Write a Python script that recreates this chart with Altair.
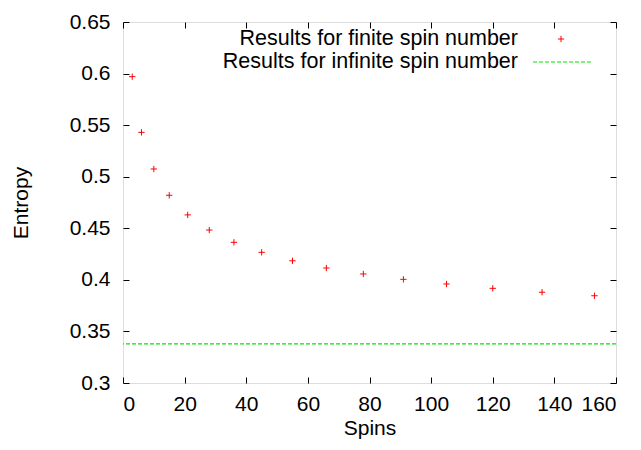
import altair as alt
import pandas as pd

# Data
spins = [3, 6, 10, 15, 21, 28, 36, 45, 55, 66, 78, 91, 105, 120, 136, 153]
entropy = [0.597, 0.543, 0.5075, 0.482, 0.463, 0.4483, 0.4364, 0.4267, 0.4185,
           0.4115, 0.4057, 0.4005, 0.396, 0.3918, 0.388, 0.3846]
infinite_value = [0.338]
x_ticks = [0, 20, 40, 60, 80, 100, 120, 140, 160]
y_ticks = [0.3, 0.35, 0.4, 0.45, 0.5, 0.55, 0.6, 0.65]
legend_labels = ["Results for finite spin number", "Results for infinite spin number"]

FONT = "Liberation Sans"
FS = 21
LFS = 21.5
PLUS = "M-1,0H1M0,-1V1"
RED = "#ff0000"
GREEN = "#00e600"

df = pd.DataFrame({"Spins": spins, "Entropy": entropy})
df_inf = pd.DataFrame({"Entropy": infinite_value})

xscale = alt.Scale(domain=[0, 160], nice=False, zero=False)
yscale = alt.Scale(domain=[0.3, 0.65], nice=False, zero=False)

common_axis = dict(domain=False, grid=False, tickSize=6, offset=-6, tickColor="black",
                   tickWidth=1, labelFont=FONT, labelFontSize=FS, labelColor="black",
                   titleFont=FONT, titleFontSize=FS, titleColor="black", titleFontWeight="normal")

points = alt.Chart(df).mark_point(shape=PLUS, filled=False, size=40, strokeWidth=1,
                                  color=RED, opacity=1).encode(
    x=alt.X("Spins:Q", scale=xscale,
            axis=alt.Axis(orient="bottom", values=x_ticks, labelPadding=10, titlePadding=3,
                          title="Spins", **common_axis)),
    y=alt.Y("Entropy:Q", scale=yscale,
            axis=alt.Axis(orient="left", values=y_ticks, format=".2~f", labelPadding=13,
                          titlePadding=38, title="Entropy", **common_axis)),
)

mirror = alt.Chart(df).mark_point(opacity=0).encode(
    x=alt.X("Spins:Q", scale=xscale,
            axis=alt.Axis(orient="top", values=x_ticks, labels=False, title=None, domain=False,
                          grid=False, tickSize=6, offset=-6, tickColor="black")),
    y=alt.Y("Entropy:Q", scale=yscale,
            axis=alt.Axis(orient="right", values=y_ticks, labels=False, title=None, domain=False,
                          grid=False, tickSize=6, offset=-6, tickColor="black")),
)

inf_line = alt.Chart(df_inf).mark_rule(color=GREEN, strokeDash=[4, 2], strokeWidth=1.2).encode(
    y=alt.Y("Entropy:Q", scale=yscale, axis=None)
)

leg1_text = alt.Chart(pd.DataFrame({"t": [legend_labels[0]]})).mark_text(
    align="right", baseline="middle", font=FONT, fontSize=LFS, color="black").encode(
    text="t:N", x=alt.value(395), y=alt.value(17))
leg1_sym = alt.Chart(pd.DataFrame({"t": [legend_labels[0]]})).mark_point(
    shape=PLUS, filled=False, size=40, strokeWidth=1, color=RED, opacity=1).encode(
    x=alt.value(438), y=alt.value(17))
leg2_text = alt.Chart(pd.DataFrame({"t": [legend_labels[1]]})).mark_text(
    align="right", baseline="middle", font=FONT, fontSize=LFS, color="black").encode(
    text="t:N", x=alt.value(395), y=alt.value(40))
leg2_line = alt.Chart(pd.DataFrame({"t": [legend_labels[1]]})).mark_rule(
    color=GREEN, strokeDash=[4, 2], strokeWidth=1.2).encode(
    x=alt.value(410), x2=alt.value(468), y=alt.value(40))

chart = alt.layer(points, mirror, inf_line, leg1_text, leg1_sym, leg2_text, leg2_line).resolve_axis(
    x="independent", y="independent"
).properties(
    width=493, height=361,
    autosize=alt.AutoSizeParams(type="none"),
    padding={"left": 115, "top": 14, "right": 17, "bottom": 59},
).configure_view(stroke="black", strokeWidth=1.5).configure(background="white")

chart.save("out.html", embed_options={"renderer": "svg", "actions": False})
